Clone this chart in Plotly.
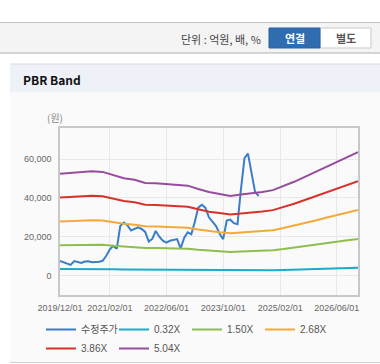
import pandas as pd
import plotly.graph_objects as go

# ---------------- data ----------------
price_dates = pd.date_range("2019-12-01", periods=57, freq="MS")
price = [7600, 6900, 6000, 5500, 7500, 7200, 6500, 7200, 7400, 6900,
         6900, 7100, 7600, 10200, 13500, 15300, 13800, 25500, 27300, 26000,
         23200, 24000, 24800, 24000, 22500, 17500, 19000, 23000, 20000, 18000,
         17000, 17900, 18300, 18800, 14000, 19500, 22300, 21300, 28000, 35000,
         36500, 35000, 30000, 27500, 25500, 21500, 18800, 28300, 28800, 27000,
         26500, 44000, 60500, 62800, 53000, 43000, 41000]

band_dates = pd.date_range("2019-12-01", periods=29, freq="3MS")
band_032 = [3330, 3370, 3400, 3410, 3390, 3280, 3180, 3130, 3030, 3020,
            2990, 2970, 2940, 2830, 2730, 2670, 2600, 2650, 2690, 2740,
            2790, 2920, 3070, 3230, 3380, 3560, 3710, 3870, 4030]
band_150 = [15620, 15770, 15920, 15980, 15890, 15360, 14910, 14670, 14200, 14140,
            14020, 13900, 13780, 13270, 12800, 12500, 12200, 12410, 12590, 12830,
            13090, 13690, 14370, 15120, 15860, 16670, 17410, 18150, 18900]
band_268 = [27910, 28180, 28450, 28550, 28390, 27440, 26640, 26210, 25360, 25260,
            25040, 24830, 24620, 23710, 22860, 22330, 21800, 22170, 22490, 22920,
            23390, 24460, 25680, 27010, 28340, 29780, 31100, 32430, 33760]
band_386 = [40210, 40590, 40980, 41130, 40900, 39520, 38370, 37760, 36530, 36380,
            36070, 35770, 35460, 34160, 32930, 32170, 31400, 31940, 32400, 33010,
            33700, 35230, 36990, 38910, 40820, 42890, 44810, 46720, 48630]
band_504 = [52500, 53000, 53500, 53700, 53400, 51600, 50100, 49300, 47700, 47500,
            47100, 46700, 46300, 44600, 43000, 42000, 41000, 41700, 42300, 43100,
            44000, 46000, 48300, 50800, 53300, 56000, 58500, 61000, 63500]

series_names = ["수정주가", "0.32X", "1.50X", "2.68X", "3.86X", "5.04X"]
x_tick_vals = ["2019-12-01", "2021-02-01", "2022-06-01", "2023-10-01", "2025-02-01", "2026-06-01"]
x_tick_text = ["2019/12/01", "2021/02/01", "2022/06/01", "2023/10/01", "2025/02/01", "2026/06/01"]
y_tick_vals = [0, 20000, 40000, 60000]
y_tick_text = ["0", "20,000", "40,000", "60,000"]

colors = ["#3b7dc8", "#1aaec6", "#8fbe4e", "#f4a93b", "#d7322a", "#964d9e"]

# ---------------- layout helpers (pixel -> paper) ----------------
W, H = 380, 364
L, R, T, B = 60, 22, 128, 69
PW, PH = W - L - R, H - T - B


def px(x):
    return (x - L) / PW


def py(y):
    return (H - B - y) / PH


FONT = "Liberation Sans, Noto Sans CJK KR, sans-serif"
KFONT = "Noto Sans CJK KR, sans-serif"

fig = go.Figure()
band_sets = [band_032, band_150, band_268, band_386, band_504]
fig.add_trace(go.Scatter(x=price_dates, y=price, name=series_names[0], mode="lines",
                         line=dict(color=colors[0], width=2)))
for name, vals, c in zip(series_names[1:], band_sets, colors[1:]):
    fig.add_trace(go.Scatter(x=band_dates, y=vals, name=name, mode="lines",
                             line=dict(color=c, width=2)))

shapes = []
# top toolbar
shapes.append(dict(type="rect", xref="paper", yref="paper", x0=px(0), x1=px(380), y0=py(53), y1=py(22),
                   fillcolor="#f4f4f4", line=dict(width=0), layer="below"))
shapes.append(dict(type="line", xref="paper", yref="paper", x0=px(0), x1=px(380), y0=py(22.5), y1=py(22.5),
                   line=dict(color="#c4c4c4", width=1), layer="below"))
shapes.append(dict(type="line", xref="paper", yref="paper", x0=px(0), x1=px(380), y0=py(53), y1=py(53),
                   line=dict(color="#c8c8c8", width=1.5), layer="below"))
# buttons
shapes.append(dict(type="rect", xref="paper", yref="paper", x0=px(320), x1=px(371), y0=py(48), y1=py(28),
                   fillcolor="#ffffff", line=dict(color="#c8c8c8", width=1), layer="below"))
shapes.append(dict(type="rect", xref="paper", yref="paper", x0=px(269), x1=px(320), y0=py(48), y1=py(28),
                   fillcolor="#2f6cb0", line=dict(color="#2a62a3", width=1), layer="below"))
# panel
shapes.append(dict(type="rect", xref="paper", yref="paper", x0=px(10), x1=px(380), y0=py(363), y1=py(92),
                   fillcolor="#fafafa", line=dict(width=0), layer="below"))
shapes.append(dict(type="rect", xref="paper", yref="paper", x0=px(10), x1=px(380), y0=py(92), y1=py(64),
                   fillcolor="#eef2f8", line=dict(width=0), layer="below"))
shapes.append(dict(type="line", xref="paper", yref="paper", x0=px(10), x1=px(380), y0=py(64), y1=py(64),
                   line=dict(color="#dadada", width=1), layer="below"))
shapes.append(dict(type="line", xref="paper", yref="paper", x0=px(10), x1=px(380), y0=py(362.5), y1=py(362.5),
                   line=dict(color="#d0d0d0", width=1), layer="below"))

annotations = [
    dict(text="단위 : 억원, 배, %", x=px(263), y=py(39), xref="paper", yref="paper",
         xanchor="right", yanchor="middle", showarrow=False, font=dict(family=KFONT, size=11, color="#444")),
    dict(text="<b>연결</b>", x=px(294.5), y=py(38), xref="paper", yref="paper",
         xanchor="center", yanchor="middle", showarrow=False, font=dict(family=KFONT, size=11, color="#ffffff")),
    dict(text="<b>별도</b>", x=px(345.5), y=py(38), xref="paper", yref="paper",
         xanchor="center", yanchor="middle", showarrow=False, font=dict(family=KFONT, size=11, color="#555")),
    dict(text="<b>PBR Band</b>", x=px(21), y=py(79), xref="paper", yref="paper",
         xanchor="left", yanchor="middle", showarrow=False, font=dict(family=KFONT, size=12, color="#111")),
    dict(text="(원)", x=px(55), y=py(117), xref="paper", yref="paper",
         xanchor="center", yanchor="middle", showarrow=False, font=dict(family=KFONT, size=10, color="#888")),
]

fig.update_layout(
    width=W, height=H,
    margin=dict(l=L, r=R, t=T, b=B, pad=0, autoexpand=False),
    paper_bgcolor="#ffffff",
    plot_bgcolor="#ffffff",
    font=dict(family=FONT, size=9, color="#666"),
    shapes=shapes,
    annotations=annotations,
    showlegend=True,
    legend=dict(orientation="h", x=px(41), y=py(315), xanchor="left", yanchor="top",
                entrywidth=28, entrywidthmode="pixels", itemwidth=30,
                font=dict(family=FONT, size=10, color="#555"),
                bgcolor="rgba(0,0,0,0)", tracegroupgap=0, itemclick=False),
    hovermode=False,
)
fig.update_xaxes(type="date", range=["2019-12-01", "2026-12-01"],
                 tickvals=x_tick_vals, ticktext=x_tick_text, tickangle=0,
                 showgrid=True, gridcolor="#e8e8e8", gridwidth=1,
                 showline=True, linecolor="#c8c8c8", linewidth=1.5, mirror=True,
                 ticks="", ticklabelstandoff=3, zeroline=False, automargin=False,
                 tickfont=dict(family=FONT, size=9, color="#666"))
fig.update_yaxes(range=[-10000, 76000], tickvals=y_tick_vals, ticktext=y_tick_text,
                 showgrid=True, gridcolor="#e8e8e8", gridwidth=1,
                 showline=True, linecolor="#c8c8c8", linewidth=1.5, mirror=True,
                 ticks="", ticklabelstandoff=5, zeroline=False, automargin=False,
                 tickfont=dict(family=FONT, size=9, color="#666"))

fig.write_html("out.html", config={"displayModeBar": False},
               post_script="document.body.style.margin='0';document.body.style.overflow='hidden';")
